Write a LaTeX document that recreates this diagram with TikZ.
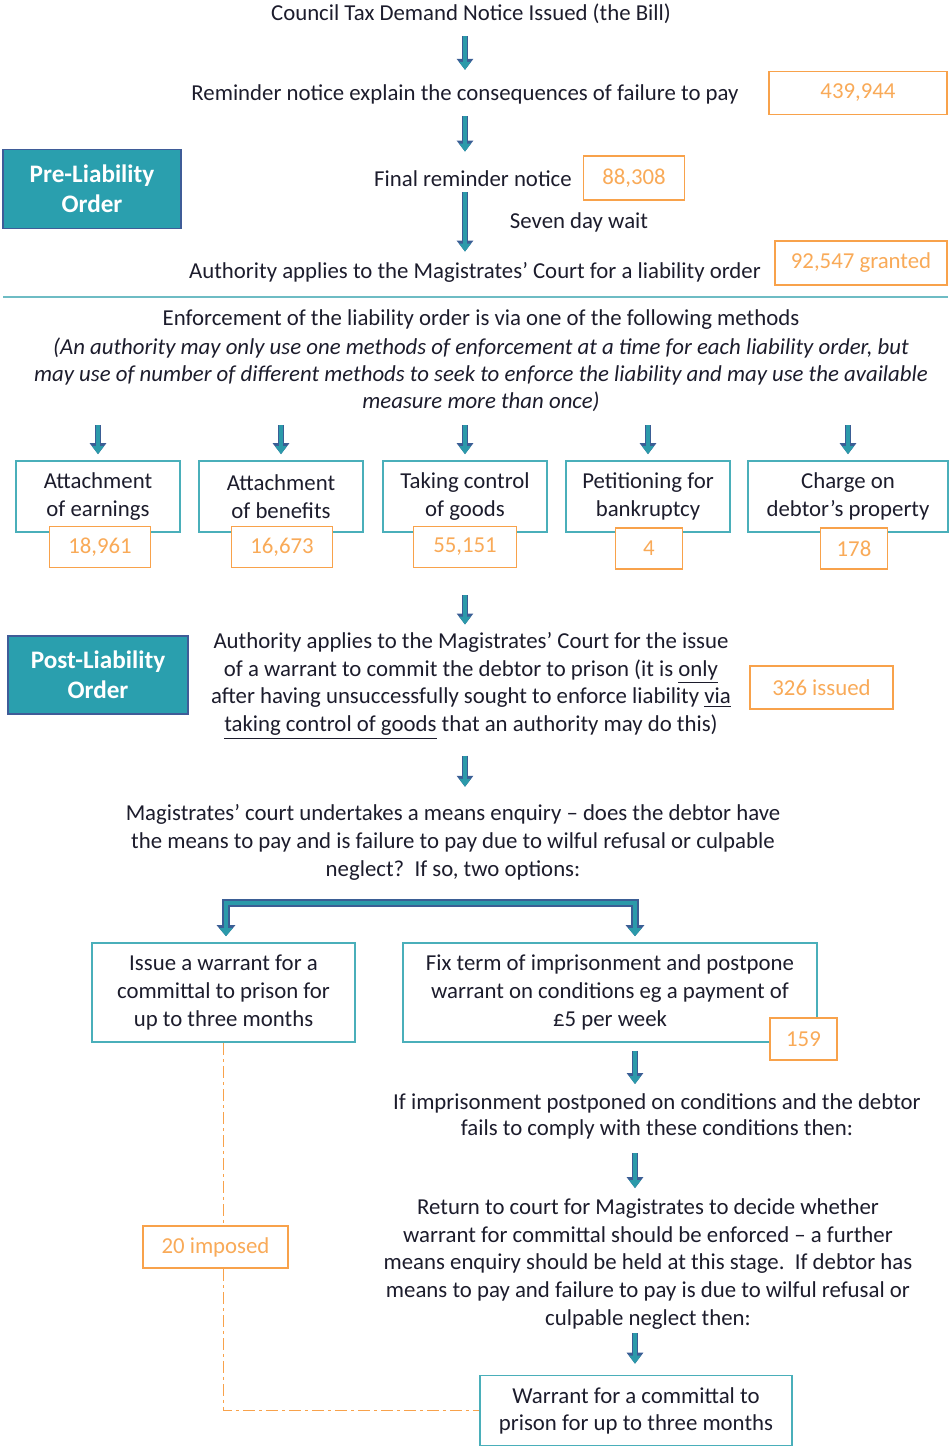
\documentclass[tikz,border=0pt]{standalone}
\usepackage{fontspec}
\setmainfont{Carlito}
\usetikzlibrary{arrows.meta}
\definecolor{ink}{RGB}{28,28,44}
\definecolor{stagefill}{RGB}{42,159,174}
\definecolor{stageedge}{RGB}{63,92,152}
\definecolor{boxteal}{RGB}{74,175,186}
\definecolor{numorange}{RGB}{248,162,75}
\definecolor{numtext}{RGB}{249,170,88}
\definecolor{arrowfill}{RGB}{43,154,170}
\definecolor{arrowedge}{RGB}{59,94,149}
\definecolor{rule}{RGB}{110,188,196}

\begin{document}
\begin{tikzpicture}[x=0.5pt, y=-0.5pt, font=\fontsize{11.4}{14}\selectfont, text=ink,
  txt/.style={align=center, inner sep=1pt},
  numbox/.style={draw=numorange, line width=0.8pt, fill=white, text=numtext, inner sep=0pt},
  methodbox/.style={draw=boxteal, line width=0.8pt, align=center, minimum width=82pt,
    minimum height=35.5pt, inner sep=0pt},
  stagebox/.style={draw=stageedge, fill=stagefill, line width=0.8pt, text=white, align=center,
    font=\fontsize{12.6}{15}\selectfont\bfseries, minimum width=89pt, minimum height=39.5pt},
  flow/.style={draw=arrowedge, line width=3pt, -{Triangle[width=8pt,length=5.5pt]},
    postaction={draw=arrowfill, line width=1.6pt, -{Triangle[width=5.6pt,length=4pt]}}},
  fork/.style={draw=arrowedge, line width=3.6pt, line join=miter,
    {Triangle[width=9pt,length=5.5pt]}-{Triangle[width=9pt,length=5.5pt]},
    postaction={draw=arrowfill, line width=2.2pt,
      {Triangle[width=6.4pt,length=4pt]}-{Triangle[width=6.4pt,length=4pt]}}},
  imposed/.style={draw=numorange, line width=0.9pt, dash pattern=on 6pt off 2pt on 1.5pt off 2pt}]
  \useasboundingbox (0,0) rectangle (948,1446);
  \coordinate (col) at (635,0);
  \coordinate (forkl) at (226,903);

  \node[txt] (bill) at (471,14) {Council Tax Demand Notice Issued (the Bill)};
  \node[txt] (remind) at (465,94) {Reminder notice explain the consequences of failure to pay};
  \node[numbox, minimum width=89pt, minimum height=21.5pt] (n439) at (858,93) {439,944};
  \node[txt] (final) at (473,179) {Final reminder notice};
  \node[numbox, minimum width=50.5pt, minimum height=22pt] (n88) at (634,178) {88,308};
  \node[stagebox] (pre) at (92,189) {Pre-Liability\\Order};
  \node[txt] (wait) at (579,222) {Seven day wait};
  \node[txt] (apply) at (475,272) {Authority applies to the Magistrates’ Court for a liability order};
  \node[numbox, minimum width=86pt, minimum height=22pt] (n92) at (861,263) {92,547 granted};
  \draw[rule, line width=1pt] (3,297) -- (948,297);

  \node[txt] (enforce) at (481,320) {Enforcement of the liability order is via one of the following methods};
  \node[txt, font=\fontsize{11.4}{13.5}\selectfont\itshape] (note) at (481,375)
    {(An authority may only use one methods of enforcement at a time for each liability order, but\\
     may use of number of different methods to seek to enforce the liability and may use the available\\
     measure more than once)};

  \node[methodbox] (m1) at (98,496.5) {Attachment\\of earnings};
  \node[methodbox] (m2) at (281,496.5) {Attachment\\of benefits};
  \node[methodbox] (m3) at (465,496.5) {Taking control\\of goods};
  \node[methodbox] (m4) at (648,496.5) {Petitioning for\\bankruptcy};
  \node[methodbox, minimum width=100pt] (m5) at (848,496.5) {Charge on\\debtor’s property};
  \node[numbox, minimum width=50.5pt, minimum height=20.5pt] (n18) at (100,547) {18,961};
  \node[numbox, minimum width=50.5pt, minimum height=20.5pt] (n16) at (282,547) {16,673};
  \node[numbox, minimum width=51.5pt, minimum height=20.5pt] (n55) at (465,547) {55,151};
  \node[numbox, minimum width=33.5pt, minimum height=20.5pt] (n4) at (649,548.5) {4};
  \node[numbox, minimum width=33.5pt, minimum height=20.5pt] (n178) at (854,548.5) {178};
  \foreach \m in {m1,m2,m3,m4,m5}
    \draw[flow, shorten <=5.5pt, shorten >=3pt] (note.south -| \m.north) -- (\m.north);

  \node[stagebox, minimum width=90pt, minimum height=39pt] (post) at (98,675) {Post-Liability\\Order};
  \node[txt, font=\fontsize{11.4}{13.7}\selectfont] (issue) at (471,686)
    {Authority applies to the Magistrates’ Court for the issue\\
     of a warrant to commit the debtor to prison (it is \underline{only}\\
     after having unsuccessfully sought to enforce liability \underline{via}\\
     \underline{taking control of goods} that an authority may do this)};
  \node[numbox, minimum width=71.5pt, minimum height=21.5pt] (n326) at (821.5,687.5) {326 issued};
  \node[txt] (means) at (453,842)
    {Magistrates’ court undertakes a means enquiry – does the debtor have\\
     the means to pay and is failure to pay due to wilful refusal or culpable\\
     neglect?\ \ If so, two options:};

  \node[draw=boxteal, line width=0.8pt, align=center, minimum width=131.5pt, minimum height=49.5pt]
    (lbox) at (223.5,992.5) {Issue a warrant for a\\committal to prison for\\up to three months};
  \node[draw=boxteal, line width=0.8pt, align=center, minimum width=207pt, minimum height=49.5pt]
    (rbox) at (610,992.5) {Fix term of imprisonment and postpone\\warrant on conditions eg a payment of\\£5 per week};
  \node[numbox, minimum width=33.5pt, minimum height=21pt] (n159) at (803.5,1039) {159};
  \node[txt, font=\fontsize{11.4}{13}\selectfont] (cond) at (657,1116)
    {If imprisonment postponed on conditions and the debtor\\
     fails to comply with these conditions then:};
  \node[txt, font=\fontsize{11.4}{13.9}\selectfont] (ret) at (648,1264)
    {Return to court for Magistrates to decide whether\\
     warrant for committal should be enforced – a further\\
     means enquiry should be held at this stage.\ \ If debtor has\\
     means to pay and failure to pay is due to wilful refusal or\\
     culpable neglect then:};
  \node[draw=boxteal, line width=0.8pt, align=center, minimum width=156pt, minimum height=35pt,
    font=\fontsize{11.4}{13.5}\selectfont] (warrant) at (636,1410.5)
    {Warrant for a committal to\\prison for up to three months};
  \node[numbox, minimum width=72.5pt, minimum height=21pt] (n20) at (215.5,1247) {20 imposed};

  \draw[flow, shorten <=5pt, shorten >=6pt] (bill.south -| remind.north) -- (remind.north);
  \draw[flow, shorten <=5pt, shorten >=8.5pt] (remind.south) -- (remind.south |- final.north);
  \draw[flow, shorten <=1.5pt, shorten >=4pt] (final.south -| remind.south) -- (apply.north -| remind.south);
  \draw[flow, shorten <=13.5pt, shorten >=3pt] (n55.south) -- (n55.south |- issue.north);
  \draw[flow, shorten <=7pt, shorten >=7.4pt] (issue.south -| n55.south) -- (means.north -| n55.south);
  \draw[fork, shorten <=3pt, shorten >=3pt] (lbox.north -| forkl) |- (forkl -| col) -- (rbox.north -| col);
  \draw[flow, shorten <=4pt, shorten >=3.4pt] (rbox.south -| col) -- (cond.north -| col);
  \draw[flow, shorten <=6pt, shorten >=4pt] (cond.south -| col) -- (ret.north -| col);
  \draw[flow, shorten <=0.6pt, shorten >=5.5pt] (ret.south -| col) -- (warrant.north -| col);

  \draw[imposed] (lbox.south) -- (n20.north -| lbox.south);
  \draw[imposed] (n20.south -| lbox.south) |- (warrant.west);
\end{tikzpicture}
\end{document}
